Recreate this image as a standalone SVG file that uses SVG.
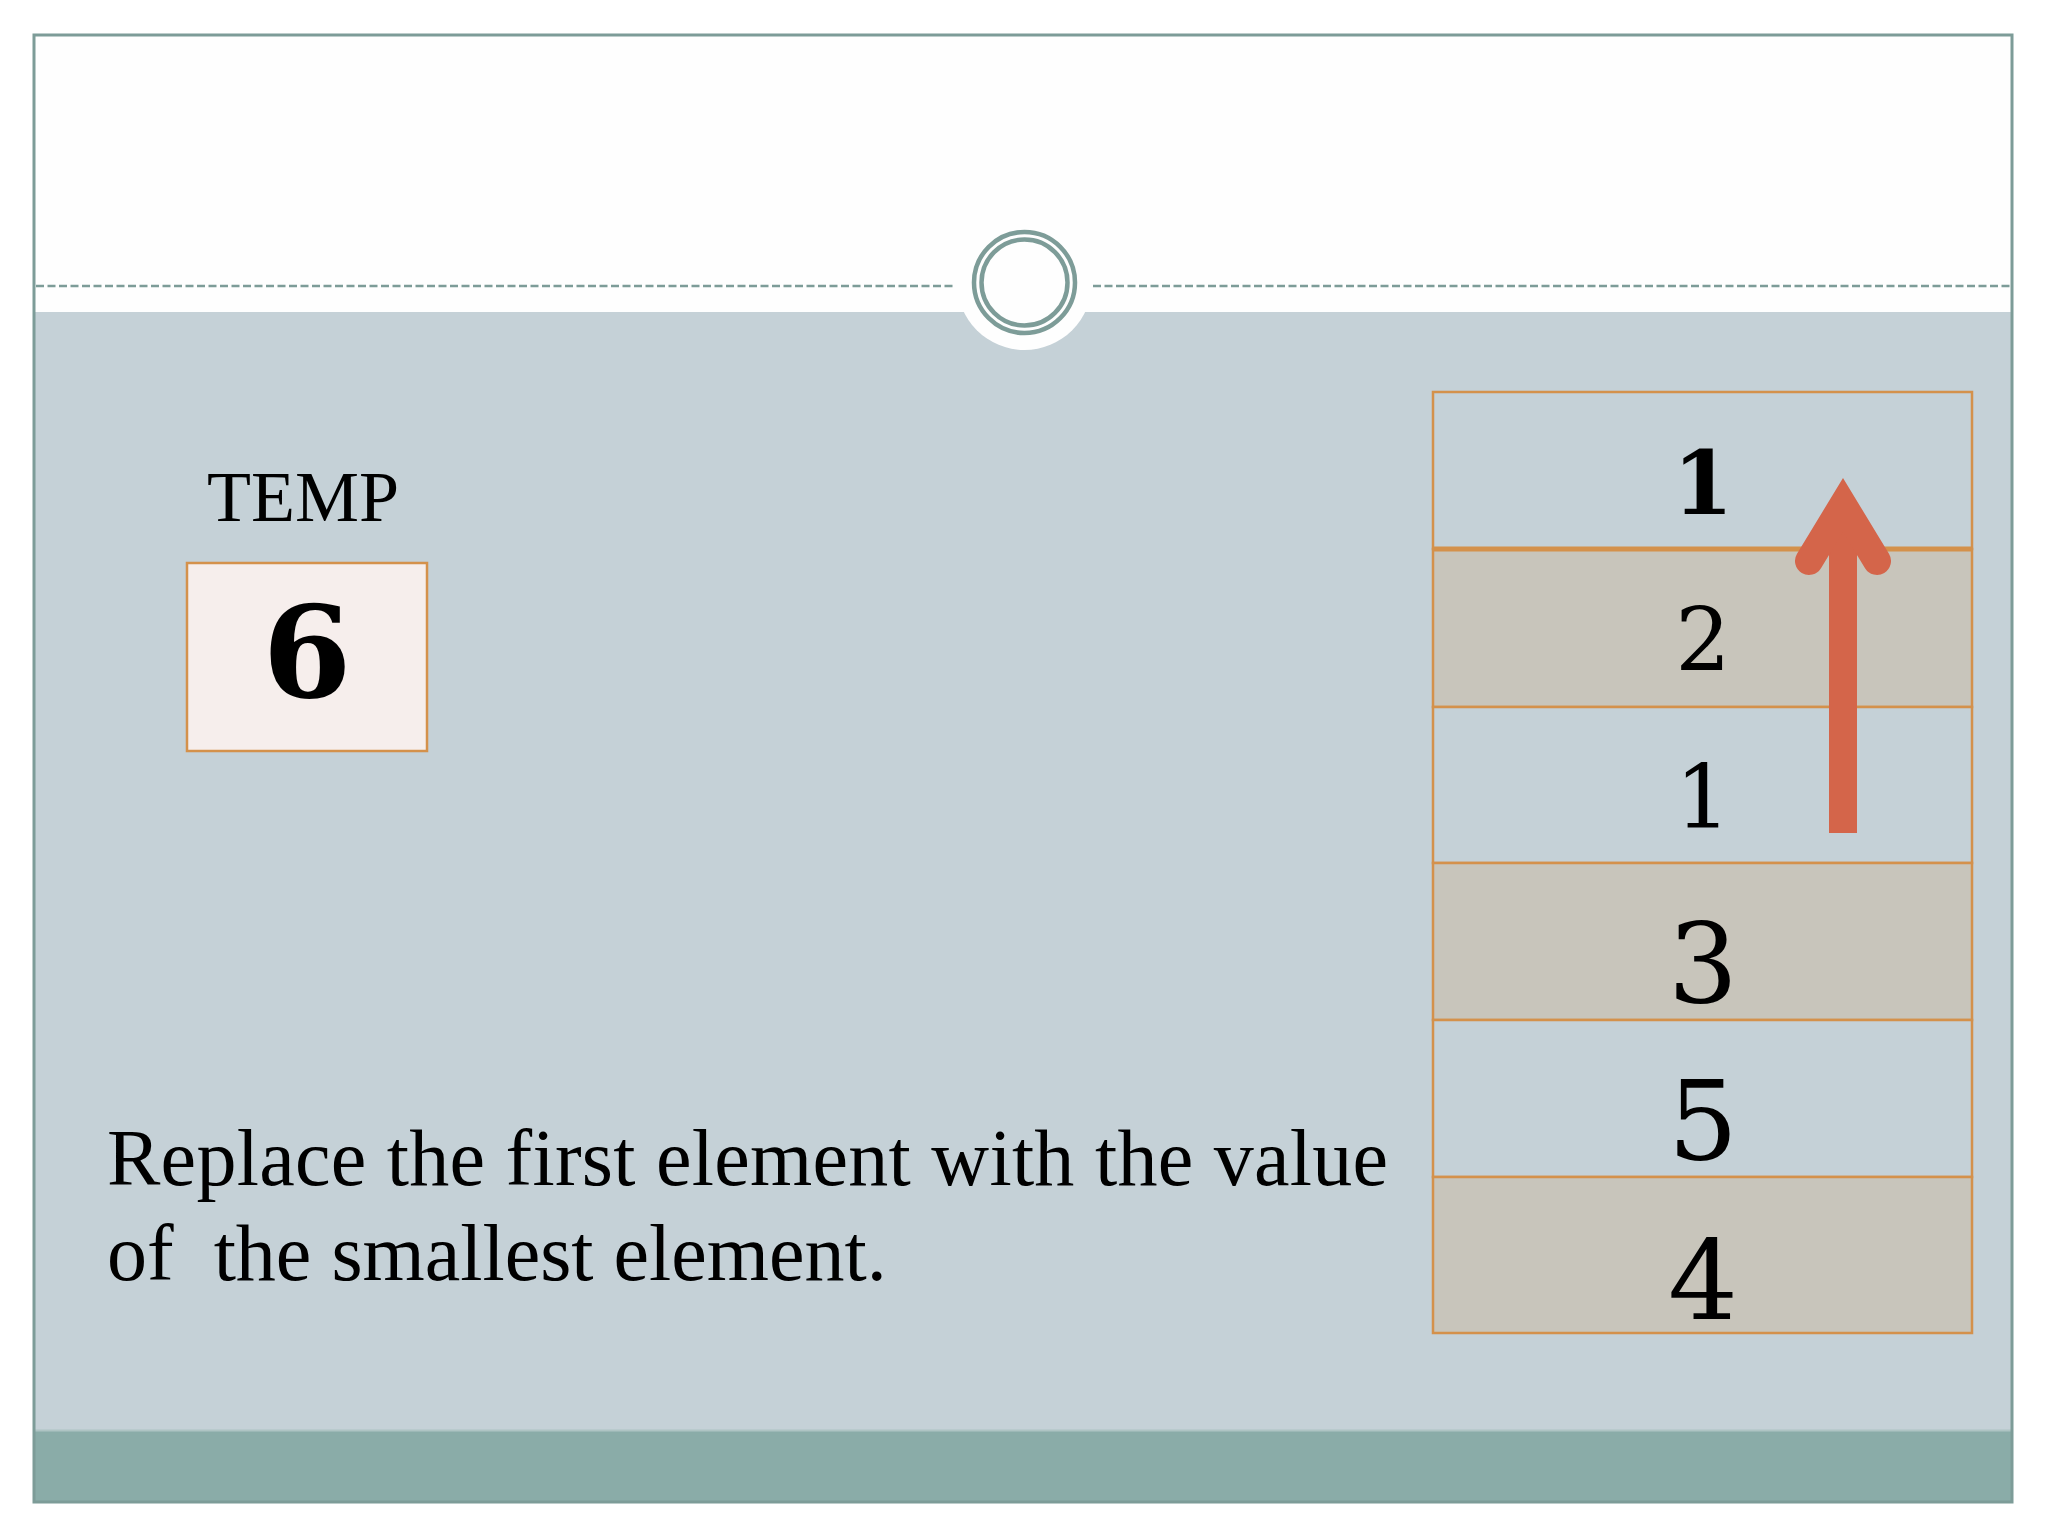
<svg xmlns="http://www.w3.org/2000/svg" width="2048" height="1536" viewBox="0 0 2048 1536">
  <style>
    .cell { stroke: #d4914b; stroke-width: 2.5; }
    .light { fill: #c5d1d7; }
    .beige { fill: #c8c5bb; }
    .num { font-family: "DejaVu Serif", "Liberation Serif", serif; text-anchor: middle; fill: #000; }
    .serif { font-family: "Liberation Serif", "Times New Roman", serif; fill: #000; }
    .ring { fill: none; stroke: #7d9c98; stroke-width: 4.5; }
    .dash { stroke: #7d9c98; stroke-width: 2.7; stroke-dasharray: 8 3.5; fill: none; }
  </style>
  <rect x="0" y="0" width="2048" height="1536" fill="#ffffff"/>
  <g id="background">
    <rect x="34" y="35" width="1978" height="277" fill="#fefefe"/>
    <rect x="34" y="312" width="1978" height="1118" fill="#c5d1d7"/>
    <rect x="34" y="1430" width="1978" height="72" fill="#8aaca8"/>
    <line x1="34" y1="1430.5" x2="2012" y2="1430.5" stroke="#aec4c3" stroke-width="2"/>
    <circle cx="1024.5" cy="282.5" r="67.5" fill="#fefefe"/>
    <line class="dash" x1="36" y1="286" x2="953" y2="286"/>
    <line class="dash" x1="1093" y1="286" x2="2010" y2="286"/>
    <circle class="ring" cx="1024.5" cy="282.5" r="50.5"/>
    <circle class="ring" cx="1024.5" cy="282.5" r="43"/>
    <rect x="34" y="35" width="1978" height="1467" fill="none" stroke="#7d9c98" stroke-width="3"/>
  </g>
  <g id="temp">
    <text class="serif" x="303" y="521" font-size="72" text-anchor="middle">TEMP</text>
    <rect x="187" y="563" width="240" height="188" fill="#f6eeec" stroke="#d4914b" stroke-width="2.5"/>
    <text class="num" x="307" y="697" font-size="128" font-weight="bold">6</text>
  </g>
  <g id="array">
    <g id="cell-0">
      <rect class="cell light" x="1433" y="392" width="539" height="157"/>
      <text class="num" x="1703" y="514" font-size="87" font-weight="bold">1</text>
    </g>
    <g id="cell-1">
      <rect class="cell beige" x="1433" y="549" width="539" height="158"/>
      <text class="num" x="1703" y="671" font-size="87">2</text>
    </g>
    <g id="cell-2">
      <rect class="cell light" x="1433" y="707" width="539" height="156"/>
      <text class="num" x="1703" y="828" font-size="87">1</text>
    </g>
    <g id="cell-3">
      <rect class="cell beige" x="1433" y="863" width="539" height="157"/>
      <text class="num" x="1703" y="1002" font-size="110">3</text>
    </g>
    <g id="cell-4">
      <rect class="cell light" x="1433" y="1020" width="539" height="157"/>
      <text class="num" x="1703" y="1159" font-size="110">5</text>
    </g>
    <g id="cell-5">
      <rect class="cell beige" x="1433" y="1177" width="539" height="156"/>
      <text class="num" x="1703" y="1319" font-size="110">4</text>
    </g>
    <line x1="1433" y1="549" x2="1972" y2="549" stroke="#d4914b" stroke-width="5"/>
  </g>
  <g id="caption">
    <text class="serif" font-size="80" xml:space="preserve"><tspan x="107" y="1185" textLength="1281" lengthAdjust="spacing">Replace the first element with the value</tspan><tspan x="107" y="1280">of  the smallest element.</tspan></text>
  </g>
  <g id="connectors">
    <line x1="1843" y1="833" x2="1843" y2="510" stroke="#d4654a" stroke-width="28"/>
    <polyline points="1809,561 1843,505 1877,561" fill="none" stroke="#d4654a" stroke-width="28" stroke-linecap="round" stroke-linejoin="miter" stroke-miterlimit="10"/>
  </g>
</svg>
